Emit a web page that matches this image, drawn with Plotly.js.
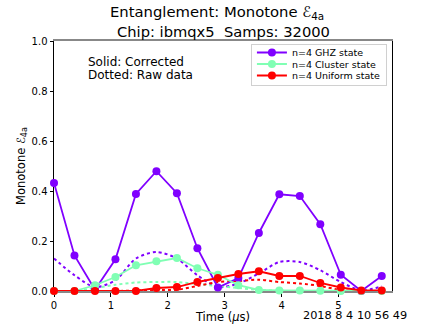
<!DOCTYPE html>
<html>
<head>
<meta charset="utf-8">
<script src="https://cdn.plot.ly/plotly-3.0.1.min.js"></script>
<style>
  body { margin: 0; background: #fff; }
  #graph { width: 436px; height: 327px; }
</style>
</head>
<body>
<div id="graph"></div>
<script>
// times in microseconds
var times = [0, 0.36, 0.72, 1.08, 1.44, 1.80, 2.16, 2.52, 2.88, 3.24, 3.60, 3.96, 4.32, 4.68, 5.04, 5.40, 5.76]

// corrected (solid)
var ghz = [0.432, 0.142, 0.005, 0.127, 0.388, 0.479, 0.391, 0.171, 0.014, 0.052, 0.232, 0.387, 0.380, 0.267, 0.065, 0.0, 0.060]
var cluster = [0.0, 0.0, 0.023, 0.056, 0.103, 0.119, 0.132, 0.091, 0.065, 0.023, 0.004, 0.002, 0.002, 0.001, 0.0, 0.0, 0.0]
var uniform = [0.0, 0.0, 0.0, 0.0, 0.0, 0.012, 0.016, 0.036, 0.052, 0.068, 0.079, 0.060, 0.060, 0.032, 0.014, 0.002, 0.002]

// raw data (dotted)
var ghzRaw = [0.13, 0.063, 0.016, 0.043, 0.13, 0.156, 0.13, 0.063, 0.016, 0.03, 0.07, 0.116, 0.116, 0.083, 0.036, 0.003, 0.019]
var clusterRaw = [0.0, 0.0, 0.012, 0.025, 0.034, 0.036, 0.036, 0.028, 0.02, 0.012, 0.004, 0.001, 0.0, 0.0, 0.0, 0.0, 0.0]
var uniformRaw = [0.0, 0.0, 0.0, 0.0, 0.002, 0.004, 0.005, 0.02, 0.036, 0.04, 0.045, 0.036, 0.03, 0.02, 0.004, 0.0, 0.0]

var names = ['n=4 GHZ state', 'n=4 Cluster state', 'n=4 Uniform state']
var colors = ['#8000ff', '#80ffb4', '#ff0000']

var solid = [ghz, cluster, uniform]
var raw = [ghzRaw, clusterRaw, uniformRaw]

var base_font = {family: 'DejaVu Sans', size: 10, color: '#000'}

var traces = []
// dotted raw curves first, underneath
for (var i = 0; i < 3; i++) {
  traces.push({
    x: times,
    y: raw[i],
    mode: 'lines',
    line: {color: colors[i], width: 2, dash: 'dot', shape: 'spline', smoothing: 0.8},
    showlegend: false,
    hoverinfo: 'skip'
  })
}
for (var i = 0; i < 3; i++) {
  traces.push({
    x: times,
    y: solid[i],
    mode: 'lines+markers',
    name: names[i],
    line: {color: colors[i], width: 1.8},
    marker: {color: colors[i], size: 8},
    cliponaxis: false
  })
}

var layout = {
  width: 436,
  height: 327,
  margin: {l: 54, r: 44, t: 41, b: 36},
  paper_bgcolor: '#fff',
  plot_bgcolor: '#fff',
  font: base_font,
  showlegend: true,
  legend: {
    x: 0.985,
    xanchor: 'right',
    y: 0.99,
    yanchor: 'top',
    bgcolor: 'rgba(255,255,255,0.8)',
    bordercolor: '#d0d0d0',
    borderwidth: 1,
    font: {family: 'DejaVu Sans', size: 9.5, color: '#000'},
    tracegroupgap: 0,
    itemwidth: 30
  },
  xaxis: {
    range: [0, 5.94],
    tickvals: [0, 1, 2, 3, 4, 5],
    ticktext: ['0', '1', '2', '3', '4', '5'],
    ticks: 'outside',
    ticklen: 3.5,
    tickcolor: '#000',
    showgrid: false,
    zeroline: false,
    showline: true,
    linecolor: '#888',
    linewidth: 2,
    mirror: true,
    layer: 'below traces',
    tickfont: base_font,
    title: {text: 'Time (<i>μ</i>s)', font: {family: 'DejaVu Sans', size: 11.5, color: '#000'}, standoff: 2}
  },
  yaxis: {
    range: [0, 1.0],
    tickvals: [0, 0.2, 0.4, 0.6, 0.8, 1.0],
    ticktext: ['0.0', '0.2', '0.4', '0.6', '0.8', '1.0'],
    ticks: 'outside',
    ticklen: 3.5,
    tickcolor: '#000',
    showgrid: false,
    zeroline: false,
    showline: true,
    linecolor: '#000',
    linewidth: 1,
    mirror: true,
    layer: 'below traces',
    tickfont: base_font,
    title: {text: 'Monotone ℰ<sub>4a</sub>', font: {family: 'DejaVu Sans', size: 11.5, color: '#000'}, standoff: 3}
  },
  annotations: [
    // title, two lines
    {
      xref: 'paper', yref: 'paper',
      x: 0.482, y: 1.112,
      xanchor: 'center', yanchor: 'middle',
      showarrow: false,
      text: 'Entanglement: Monotone ℰ<sub>4a</sub>',
      font: {family: 'DejaVu Sans', size: 14.8, color: '#000'}
    },
    {
      xref: 'paper', yref: 'paper',
      x: 0.5, y: 1.038,
      xanchor: 'center', yanchor: 'middle',
      showarrow: false,
      text: 'Chip: ibmqx5  Samps: 32000',
      font: {family: 'DejaVu Sans', size: 14.7, color: '#000'}
    },
    {
      xref: 'paper', yref: 'paper',
      x: 0.095, y: 0.914,
      xanchor: 'left', yanchor: 'middle',
      showarrow: false,
      text: 'Solid: Corrected',
      font: {family: 'DejaVu Sans', size: 12, color: '#000'}
    },
    {
      xref: 'paper', yref: 'paper',
      x: 0.095, y: 0.864,
      xanchor: 'left', yanchor: 'middle',
      showarrow: false,
      text: 'Dotted: Raw data',
      font: {family: 'DejaVu Sans', size: 12, color: '#000'}
    },
    {
      xref: 'paper', yref: 'paper',
      x: 1.05, y: -0.063,
      xanchor: 'right', yanchor: 'top',
      showarrow: false,
      text: '2018 8 4 10 56 49',
      font: {family: 'DejaVu Sans', size: 11.3, color: '#000'}
    }
  ]
}

Plotly.newPlot('graph', traces, layout, {displayModeBar: false, staticPlot: true}).then(function(gd) {
  // matplotlib packs legend rows much tighter than plotly does
  var items = gd.querySelectorAll('.legend .traces')
  var firstRow = 9, rowGap = 11.5
  items.forEach(function(el, i) {
    el.setAttribute('transform', 'translate(1,' + (firstRow + i * rowGap) + ')')
  })
  var bg = gd.querySelector('.legend .bg')
  if (bg && items.length) bg.setAttribute('height', 2 * firstRow + (items.length - 1) * rowGap)
})
</script>
</body>
</html>
